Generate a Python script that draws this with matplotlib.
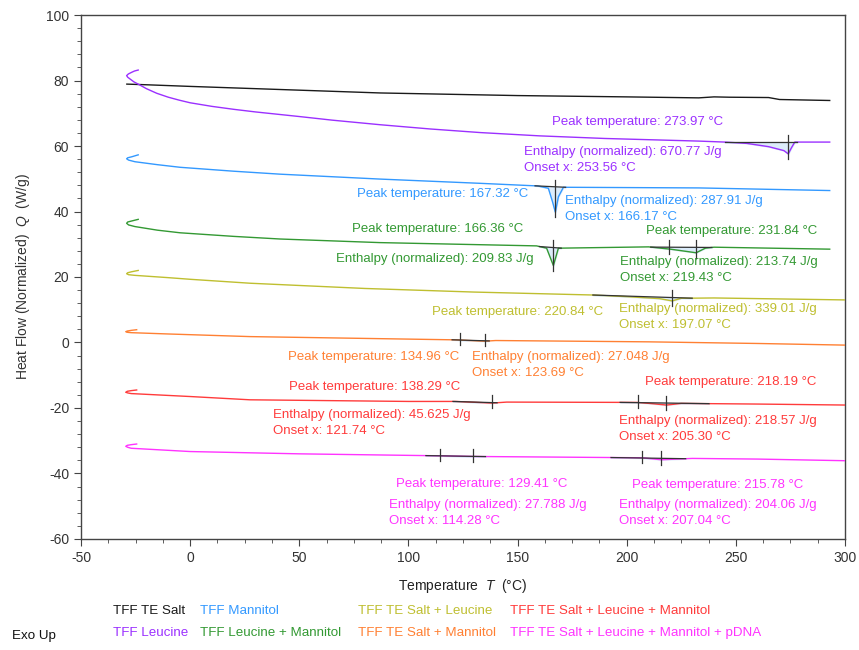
import numpy as np
import matplotlib
matplotlib.use('Agg')
import matplotlib.pyplot as plt
from matplotlib.ticker import MultipleLocator

plt.rcParams['font.family'] = ['Liberation Sans', 'DejaVu Sans']
plt.rcParams['mathtext.fontset'] = 'custom'
plt.rcParams['mathtext.it'] = 'Liberation Sans:italic'
plt.rcParams['mathtext.rm'] = 'Liberation Sans'
plt.rcParams['axes.unicode_minus'] = False

# ===== Data =====
series_names = [
    'TFF TE Salt', 'TFF Leucine', 'TFF Mannitol', 'TFF Leucine + Mannitol',
    'TFF TE Salt + Leucine', 'TFF TE Salt + Mannitol',
    'TFF TE Salt + Leucine + Mannitol', 'TFF TE Salt + Leucine + Mannitol + pDNA',
]
series_colors = ['#1a1a1a', '#9b30ff', '#3399ff', '#339933',
                 '#bfbf30', '#ff8033', '#ff3b3b', '#ff33ff']

salt_T = [-29, -20, 0, 87, 150, 200, 233, 240, 247, 265, 270, 293]
salt_Q = [78.9, 78.7, 78.2, 76.2, 75.4, 75.0, 74.7, 75.0, 74.9, 74.8, 74.2, 73.9]

leu_T = [-23.8, -25.5, -26.8, -28.3, -29.1, -28.6, -27.6, -25.8, -23.8, -20, -15.3,
         -10, -5, 0, 10, 20, 30, 40, 50, 65, 87, 110, 133, 160, 190, 233,
         245, 255, 265, 272, 274, 275.5, 277, 293]
leu_Q = [83.2, 82.9, 82.5, 82.0, 81.5, 81.0, 80.5, 79.6, 78.9, 77.5, 76.1,
         74.9, 74.0, 73.2, 72.1, 71.2, 70.4, 69.7, 69.0, 67.9, 66.5, 65.2, 64.1,
         63.1, 62.3, 61.5, 61.2, 60.8, 59.8, 58.6, 57.6, 59.5, 61.2, 61.2]

man_T = [-23.8, -26.8, -28.6, -29.1, -28.2, -25.3, -15, -4.6, 20, 41.2, 87, 133,
         159.3, 164.1, 166.0, 167.3, 168.7, 171, 233, 293]
man_Q = [57.3, 56.7, 56.4, 56.1, 55.7, 55.2, 54.3, 53.5, 52.3, 51.4, 49.9, 48.6,
         47.8, 47.1, 43.0, 39.8, 44.5, 47.4, 47.2, 46.4]

leuman_T = [-23.8, -26.8, -28.6, -29.1, -28.2, -25.3, -15, -4.6, 20, 41.2, 87,
            158.7, 163.3, 166.4, 168.7, 210, 220, 231.8, 236, 240, 293]
leuman_Q = [37.6, 37.1, 36.8, 36.4, 35.9, 35.4, 34.3, 33.5, 32.4, 31.6, 30.5,
            29.5, 28.8, 23.5, 28.8, 29.2, 28.5, 27.4, 28.8, 29.1, 28.5]

saltleu_T = [-23.8, -26.8, -28.6, -29.1, -28.2, -25.3, -10, 0, 27.4, 80, 130,
             184.5, 200, 215, 220.8, 225, 240, 270, 300]
saltleu_Q = [22.0, 21.6, 21.3, 21.0, 20.7, 20.5, 19.8, 19.3, 18.1, 16.5, 15.4,
             14.5, 14.0, 13.4, 12.7, 13.5, 13.6, 13.3, 13.0]

saltman_T = [-24.5, -27, -28.8, -29.5, -28.6, -27, -10, 27.4, 122.2, 128, 135,
             140, 210, 260, 300]
saltman_Q = [3.9, 3.7, 3.5, 3.3, 3.1, 3.0, 2.6, 1.8, 0.8, 0.6, 0.4, 0.6, 0.2,
             -0.3, -0.8]

sln_T = [-24.5, -27, -28.8, -29.5, -28.6, -27, 0, 27.4, 100, 121.7, 138.3, 145,
         205, 212, 218.2, 225, 260, 300]
sln_Q = [-14.5, -14.7, -14.9, -15.2, -15.4, -15.6, -16.5, -17.5, -18.0, -18.0,
         -18.5, -18.2, -18.3, -18.7, -19.1, -18.6, -18.8, -19.1]

slnp_T = [-24.5, -27, -28.8, -29.5, -28.6, -27, 0, 50, 114.3, 129.4, 207,
          215.8, 230, 260, 300]
slnp_Q = [-31.0, -31.2, -31.4, -31.7, -32.0, -32.3, -33.3, -34.0, -34.6, -34.8,
          -35.2, -35.8, -35.4, -35.6, -36.1]

curves_T = [salt_T, leu_T, man_T, leuman_T, saltleu_T, saltman_T, sln_T, slnp_T]
curves_Q = [salt_Q, leu_Q, man_Q, leuman_Q, saltleu_Q, saltman_Q, sln_Q, slnp_Q]

# peak analyses: series index, integration start / end, onset, peak, enthalpy
peak_series = [1, 2, 3, 3, 4, 5, 6, 6, 7, 7]
peak_start = [245, 158, 160, 211, 184.5, 120, 120.4, 197, 108, 192.8]
peak_end = [278, 172, 170, 239, 230, 137, 140.6, 237.7, 135.3, 227]
peak_onset = [253.56, 166.17, 163.5, 219.43, 197.07, 123.69, 121.74, 205.30, 114.28, 207.04]
peak_temp = [273.97, 167.32, 166.36, 231.84, 220.84, 134.96, 138.29, 218.19, 129.41, 215.78]
peak_enthalpy = ['670.77', '287.91', '209.83', '213.74', '339.01', '27.048',
                 '45.625', '218.57', '27.788', '204.06']
onset_tick = [False, False, False, True, False, True, False, True, True, True]
show_onset = [True, True, False, True, True, True, True, True, True, True]

fig = plt.figure(figsize=(8.59, 6.5), dpi=100)
ax = fig.add_axes([0.0943, 0.1708, 0.8894, 0.8061])

for T, Q, c in zip(curves_T, curves_Q, series_colors):
    ax.plot(T, Q, color=c, lw=1.0, zorder=3)

# integration baselines, fills and onset/peak ticks
for s, t0, t1, on, pk, ot in zip(peak_series, peak_start, peak_end,
                                 peak_onset, peak_temp, onset_tick):
    T = np.array(curves_T[s])
    Q = np.array(curves_Q[s])
    order = np.argsort(T)
    Ts, Qs = T[order], Q[order]
    q0, q1 = np.interp(t0, Ts, Qs), np.interp(t1, Ts, Qs)
    inside = (Ts > t0) & (Ts < t1)
    ft = np.concatenate([[t0], Ts[inside], [t1]])
    fq = np.concatenate([[q0], Qs[inside], [q1]])
    bq = q0 + (q1 - q0) * (ft - t0) / (t1 - t0)
    ax.fill_between(ft, fq, bq, color='#dcecfb', zorder=2)
    ax.plot([t0, t1], [q0, q1], color='#333333', lw=0.9, zorder=4)
    for tx in ([on, pk] if ot else [pk]):
        base = q0 + (q1 - q0) * (tx - t0) / (t1 - t0)
        cq = np.interp(tx, Ts, Qs)
        ax.plot([tx, tx], [base + 2.2, min(cq, base) - 1.6],
                color='#333333', lw=0.9, zorder=4)

# ===== Annotation texts (left x, centre y) =====
fs = 9.5
def note(x, y, s, c):
    ax.text(x, y, s, color=c, fontsize=fs, ha='left', va='center', zorder=5)

pk_pos = [(165.8, 67.3), (76.4, 45.3), (74.1, 34.7), (208.8, 34.0), (110.8, 9.3),
          (44.8, -4.4), (45.3, -13.6), (208.4, -12.1), (94.3, -43.2), (202.4, -43.5)]
en_pos = [(152.9, 58.2), (171.7, 43.2), (66.8, 25.5), (196.9, 24.6), (196.5, 10.2),
          (129.1, -4.4), (38.0, -22.1), (196.5, -24.0), (91.1, -49.6), (196.5, -49.6)]

for i, s in enumerate(peak_series):
    c = series_colors[s]
    note(pk_pos[i][0], pk_pos[i][1], f'Peak temperature: {peak_temp[i]:.2f} °C', c)
    note(en_pos[i][0], en_pos[i][1], f'Enthalpy (normalized): {peak_enthalpy[i]} J/g', c)
    if show_onset[i]:
        note(en_pos[i][0], en_pos[i][1] - 4.9, f'Onset x: {peak_onset[i]:.2f} °C', c)

# ===== Axes =====
ax.set_xlim(-50, 300)
ax.set_ylim(-60, 100)
ax.xaxis.set_major_locator(MultipleLocator(50))
ax.xaxis.set_minor_locator(MultipleLocator(12.5))
ax.yaxis.set_major_locator(MultipleLocator(20))
ax.yaxis.set_minor_locator(MultipleLocator(4))
ax.tick_params(which='both', direction='out', color='#444444', labelsize=10,
               labelcolor='#333333')
ax.tick_params(which='major', length=5)
ax.tick_params(which='minor', length=3)
for sp in ax.spines.values():
    sp.set_color('#444444')
    sp.set_linewidth(1.0)

ax.set_xlabel(r'Temperature  $\it{T}$  (°C)', fontsize=10, color='#222222', labelpad=9)
ax.set_ylabel(r'Heat Flow (Normalized)  $\it{Q}$  (W/g)', fontsize=10,
              color='#333333', labelpad=10)

# ===== Legend as coloured text =====
leg_x = [113, 200, 358, 510]
leg_order = [(0, 0), (2, 1), (4, 2), (6, 3), (1, 0), (3, 1), (5, 2), (7, 3)]
for k, (si, col) in enumerate(leg_order):
    y_px = 611 if k < 4 else 633
    fig.text(leg_x[col] / 859, 1 - y_px / 650, series_names[si],
             color=series_colors[si], fontsize=9.6, ha='left', va='center')
fig.text(12 / 859, 1 - 636 / 650, 'Exo Up', color='#111111', fontsize=9.6,
         ha='left', va='center')

fig.savefig('out.png', dpi=100)
